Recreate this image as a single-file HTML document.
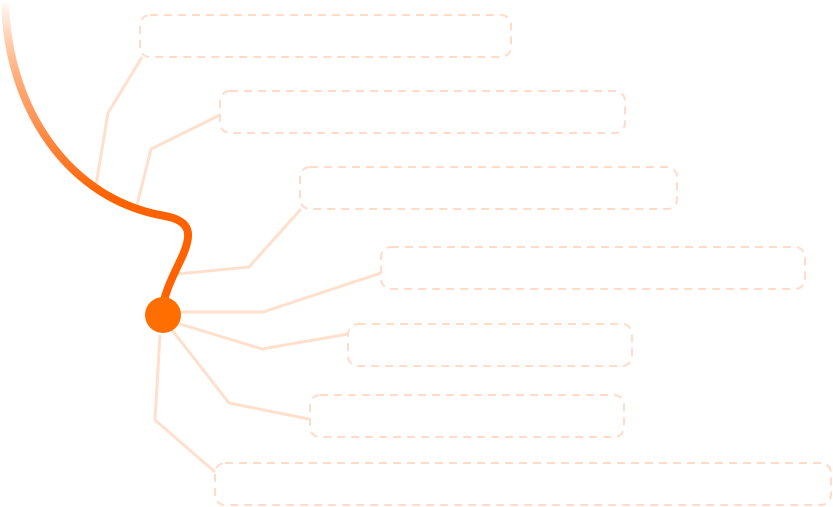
<!DOCTYPE html>
<html><head><style>html,body{margin:0;padding:0;background:#fff}svg{display:block}</style></head>
<body>
<svg width="833" height="507" viewBox="0 0 833 507" xmlns="http://www.w3.org/2000/svg">
<defs>
<linearGradient id="g" gradientUnits="userSpaceOnUse" x1="0" y1="0" x2="0" y2="220">
<stop offset="0" stop-color="#ff6a00" stop-opacity="0"/>
<stop offset="0.5" stop-color="#ff9a60"/>
<stop offset="0.9" stop-color="#ff6200"/>
<stop offset="1" stop-color="#ff6200"/>
</linearGradient>
</defs>
<g fill="none" stroke="#ffe0cc" stroke-width="3" stroke-linejoin="miter">
<polyline points="96,185 108,113 142,57"/>
<polyline points="137,205 151,149 220,115"/>
<polyline points="177,274 249,267 301,209"/>
<polyline points="180,312 263,312 381,273"/>
<polyline points="180,324 262,349 348,334"/>
<polyline points="172,330 229,403 309,419"/>
<polyline points="160,335 155,420 215,472"/>
</g>
<g fill="none" stroke="#ffdcc8" stroke-width="2" stroke-dasharray="8,6">
<rect x="140" y="15" width="371" height="42" rx="10"/>
<rect x="220" y="91" width="405" height="42" rx="10"/>
<rect x="300" y="167" width="377" height="42" rx="10"/>
<rect x="381" y="247" width="424" height="42" rx="10"/>
<rect x="348" y="324" width="284" height="42" rx="10"/>
<rect x="310" y="395" width="314" height="42" rx="10"/>
<rect x="215" y="463" width="616" height="42" rx="10"/>
</g>
<path d="M5,0 C7,110 70,200 165,216 C192,221 192,235 182,257 C172,278 166,290 163,305" fill="none" stroke="url(#g)" stroke-width="8" stroke-linecap="round"/>
<circle cx="163" cy="315" r="18" fill="#ff6e00"/>
</svg>
</body></html>
